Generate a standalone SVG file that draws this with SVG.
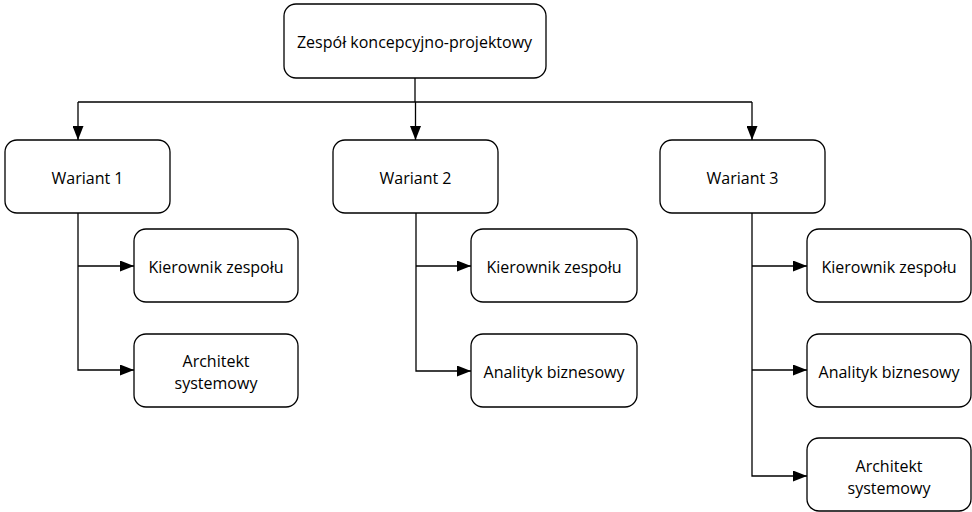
<svg xmlns="http://www.w3.org/2000/svg" width="972" height="512" viewBox="0 0 972 512">
  <style>
    .box { fill: #ffffff; stroke: #000000; stroke-width: 1.3; }
    .lbl { font-family: "Open Sans", "Liberation Sans", Arial, sans-serif; font-size: 16px; fill: #000000; text-anchor: middle; dominant-baseline: central; }
    .wire { fill: none; stroke: #000000; stroke-width: 1.3; }
  </style>
  <defs>
    <marker id="tip" viewBox="0 0 14 11" refX="14" refY="5.5" markerWidth="14" markerHeight="11" markerUnits="userSpaceOnUse" orient="auto">
      <path d="M0,0 L14,5.5 L0,11 Z" fill="#000000"/>
    </marker>
  </defs>

  <!-- connectors -->
  <g id="connectors">
    <path class="wire" d="M415,78 V102"/>
    <path class="wire" d="M78,102 H752"/>
    <path class="wire" d="M78,102 V140" marker-end="url(#tip)"/>
    <path class="wire" d="M415.5,102 V140" marker-end="url(#tip)"/>
    <path class="wire" d="M752,102 V140" marker-end="url(#tip)"/>

    <!-- Wariant 1 -->
    <path class="wire" d="M78,213 V370 H134" marker-end="url(#tip)"/>
    <path class="wire" d="M78,266 H134" marker-end="url(#tip)"/>

    <!-- Wariant 2 -->
    <path class="wire" d="M416,213 V371 H471" marker-end="url(#tip)"/>
    <path class="wire" d="M416,266 H471" marker-end="url(#tip)"/>

    <!-- Wariant 3 -->
    <path class="wire" d="M752,213 V476 H807" marker-end="url(#tip)"/>
    <path class="wire" d="M752,266 H807" marker-end="url(#tip)"/>
    <path class="wire" d="M752,370 H807" marker-end="url(#tip)"/>
  </g>

  <!-- top -->
  <g id="zespol">
    <rect class="box" x="284" y="4" width="262" height="74" rx="12"/>
    <text class="lbl" x="414.5" y="42">Zespół koncepcyjno-projektowy</text>
  </g>

  <!-- variants -->
  <g id="wariant1">
    <rect class="box" x="5" y="140" width="165" height="73" rx="12"/>
    <text class="lbl" x="87.5" y="178">Wariant 1</text>
  </g>
  <g id="wariant2">
    <rect class="box" x="333" y="140" width="165" height="73" rx="12"/>
    <text class="lbl" x="415.5" y="178">Wariant 2</text>
  </g>
  <g id="wariant3">
    <rect class="box" x="660" y="140" width="165" height="73" rx="12"/>
    <text class="lbl" x="742.5" y="178">Wariant 3</text>
  </g>

  <!-- Wariant 1 members -->
  <g id="w1-kierownik">
    <rect class="box" x="134" y="229" width="164" height="73" rx="12"/>
    <text class="lbl" x="216" y="267">Kierownik zespołu</text>
  </g>
  <g id="w1-architekt">
    <rect class="box" x="134" y="334" width="164" height="73" rx="12"/>
    <text class="lbl" x="216" y="361">Architekt</text>
    <text class="lbl" x="216" y="383">systemowy</text>
  </g>

  <!-- Wariant 2 members -->
  <g id="w2-kierownik">
    <rect class="box" x="471" y="229" width="166" height="73" rx="12"/>
    <text class="lbl" x="554" y="267">Kierownik zespołu</text>
  </g>
  <g id="w2-analityk">
    <rect class="box" x="471" y="334" width="166" height="73" rx="12"/>
    <text class="lbl" x="554" y="372">Analityk biznesowy</text>
  </g>

  <!-- Wariant 3 members -->
  <g id="w3-kierownik">
    <rect class="box" x="807" y="229" width="164" height="73" rx="12"/>
    <text class="lbl" x="889" y="267">Kierownik zespołu</text>
  </g>
  <g id="w3-analityk">
    <rect class="box" x="807" y="334" width="164" height="73" rx="12"/>
    <text class="lbl" x="889" y="372">Analityk biznesowy</text>
  </g>
  <g id="w3-architekt">
    <rect class="box" x="807" y="438" width="164" height="73" rx="12"/>
    <text class="lbl" x="889" y="466">Architekt</text>
    <text class="lbl" x="889" y="488">systemowy</text>
  </g>
</svg>
